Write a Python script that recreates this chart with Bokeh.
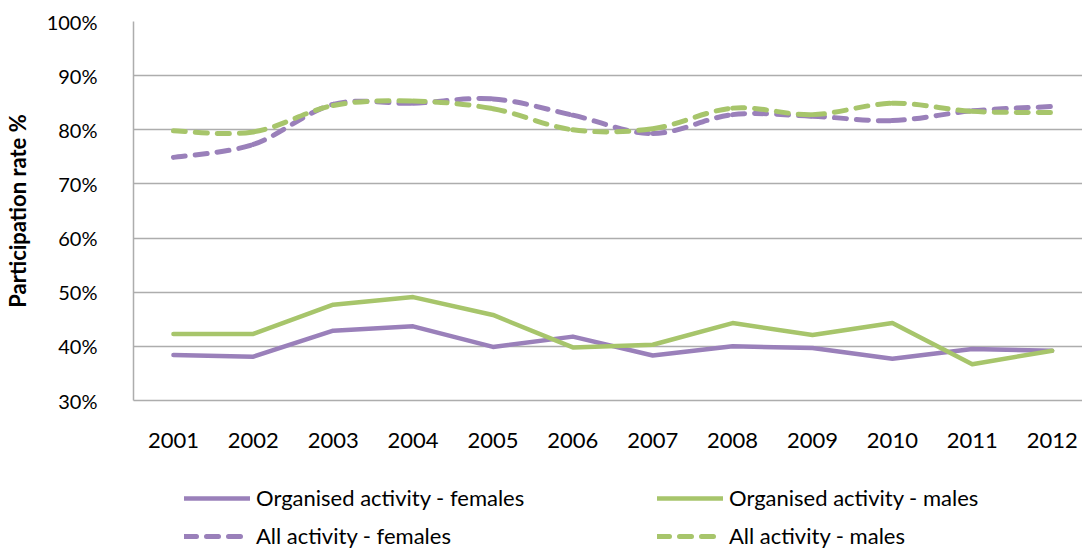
import numpy as np
from bokeh.plotting import figure
from bokeh.layouts import column
from bokeh.models import FixedTicker, Legend, LegendItem, Range1d
from bokeh.embed import file_html
from bokeh.resources import INLINE

years = [2001, 2002, 2003, 2004, 2005, 2006, 2007, 2008, 2009, 2010, 2011, 2012]
org_females = [38.4, 38.1, 42.9, 43.7, 39.9, 41.8, 38.3, 40.0, 39.7, 37.7, 39.5, 39.2]
org_males = [42.3, 42.3, 47.7, 49.1, 45.8, 39.8, 40.3, 44.3, 42.1, 44.3, 36.7, 39.2]
all_females = [74.9, 77.3, 84.7, 84.9, 85.7, 82.7, 79.3, 82.8, 82.5, 81.7, 83.5, 84.3]
all_males = [79.8, 79.6, 84.5, 85.3, 83.9, 80.0, 80.2, 84.0, 82.8, 84.9, 83.4, 83.2]
y_ticks = [30, 40, 50, 60, 70, 80, 90, 100]
y_tick_labels = ["30%", "40%", "50%", "60%", "70%", "80%", "90%", "100%"]
labels = ["Organised activity - females", "Organised activity - males",
          "All activity - females", "All activity - males"]

PURPLE = "#9A80BA"
GREEN = "#A7C56B"
FONT = "Lato"

p = figure(width=1082, height=460, output_backend="svg", toolbar_location=None,
           x_range=Range1d(2000.5, 2012.38), y_range=Range1d(30, 100),
           min_border_left=121, min_border_right=0, min_border_top=21,
           min_border_bottom=60)
p.outline_line_color = None

# axes
p.xaxis.ticker = FixedTicker(ticks=years)
p.xaxis.major_label_overrides = {y: str(y) for y in years}
p.yaxis.ticker = FixedTicker(ticks=y_ticks)
p.yaxis.major_label_overrides = {t: l for t, l in zip(y_ticks, y_tick_labels)}
for ax in (p.xaxis[0], p.yaxis[0]):
    ax.major_tick_line_color = None
    ax.minor_tick_line_color = None
    ax.axis_line_color = "#ADADAD"
    ax.axis_line_width = 1.5
    ax.major_label_text_font = FONT
    ax.major_label_text_color = "#000000"
p.xaxis.major_label_text_font_size = "22px"
p.yaxis.major_label_text_font_size = "20px"
p.xaxis.major_label_standoff = 26
p.yaxis.major_label_standoff = 30
p.yaxis.axis_label = "Participation rate %"
p.yaxis.axis_label_text_font = FONT
p.yaxis.axis_label_text_font_style = "bold"
p.yaxis.axis_label_text_font_size = "22px"
p.yaxis.axis_label_text_color = "#000000"
p.yaxis.axis_label_standoff = 13

p.xgrid.grid_line_color = None
p.ygrid.ticker = FixedTicker(ticks=y_ticks)
p.ygrid.grid_line_color = "#ADADAD"
p.ygrid.grid_line_width = 1.5

SOLID = dict(line_width=4.5, line_join="round", line_cap="round")
DASHED = dict(line_width=5, line_cap="round", line_dash="12 10")

# solid lines
p.line(years, org_females, line_color=PURPLE, **SOLID)
p.line(years, org_males, line_color=GREEN, **SOLID)


def smooth(xs, ys, t=1.0 / 6):
    x = np.asarray(xs, dtype=float)
    y = np.asarray(ys, dtype=float)
    n = len(x)
    xp = np.concatenate([[x[0]], x, [x[-1]]])
    yp = np.concatenate([[y[0]], y, [y[-1]]])
    i = np.arange(n - 1)
    cx0 = x[i] + (xp[i + 2] - xp[i]) * t
    cy0 = y[i] + (yp[i + 2] - yp[i]) * t
    cx1 = x[i + 1] - (xp[i + 3] - xp[i + 1]) * t
    cy1 = y[i + 1] - (yp[i + 3] - yp[i + 1]) * t
    return dict(x0=x[:-1], y0=y[:-1], x1=x[1:], y1=y[1:],
                cx0=cx0, cy0=cy0, cx1=cx1, cy1=cy1)


# smoothed dashed lines
p.bezier(**smooth(years, all_females), line_color=PURPLE, **DASHED)
p.bezier(**smooth(years, all_males), line_color=GREEN, **DASHED)

# legend strip below the chart (its series lie outside this strip's ranges,
# so only the legend swatches are visible)
lg = figure(width=1082, height=90, output_backend="svg", toolbar_location=None,
            x_range=Range1d(0, 1), y_range=Range1d(0, 1),
            min_border_left=0, min_border_right=0, min_border_top=0, min_border_bottom=0)
lg.axis.visible = False
lg.grid.grid_line_color = None
lg.outline_line_color = None
k1 = lg.line(years, org_females, line_color=PURPLE, **SOLID)
k2 = lg.line(years, org_males, line_color=GREEN, **SOLID)
k3 = lg.line(years, all_females, line_color=PURPLE, **DASHED)
k4 = lg.line(years, all_males, line_color=GREEN, **DASHED)

legend = Legend(items=[LegendItem(label=labels[0], renderers=[k1]),
                       LegendItem(label=labels[1], renderers=[k2]),
                       LegendItem(label=labels[2], renderers=[k3]),
                       LegendItem(label=labels[3], renderers=[k4])],
                orientation="horizontal", ncols=2,
                location=(51, 1), margin=0, padding=0, spacing=11,
                glyph_width=66, glyph_height=20, label_standoff=6,
                label_width=390, label_height=20,
                label_text_font=FONT, label_text_font_size="22px",
                label_text_color="#000000",
                background_fill_alpha=0, border_line_color=None)
lg.add_layout(legend, "center")

layout = column(p, lg, spacing=0)
open("out.html", "w").write(file_html(layout, INLINE))
